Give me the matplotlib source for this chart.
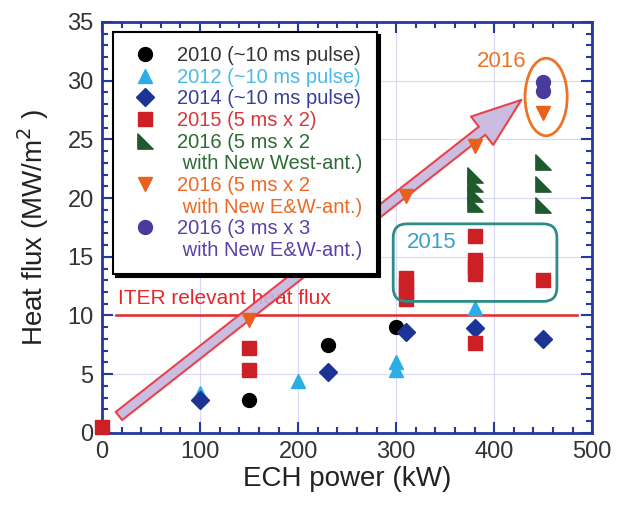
import numpy as np
import matplotlib.pyplot as plt
from matplotlib.path import Path
from matplotlib.lines import Line2D
from matplotlib.patches import Ellipse, FancyBboxPatch, FancyArrowPatch

plt.rcParams['font.family'] = ['Liberation Sans', 'DejaVu Sans']

# datos
x2010 = [150, 230, 300]
y2010 = [2.8, 7.5, 9.0]
x2012 = [100, 200, 300, 300, 380]
y2012 = [3.4, 4.4, 5.4, 6.0, 10.6]
x2014 = [100, 230, 310, 380, 450]
y2014 = [2.8, 5.2, 8.6, 8.9, 8.0]
x2015 = [0, 150, 150, 310, 310, 310, 310, 380, 380, 380, 380, 380, 450]
y2015 = [0.5, 5.4, 7.2, 11.4, 12.0, 12.6, 13.2, 7.7, 13.5, 14.1, 14.7, 16.8, 13.0]
x2016w = [380, 380, 380, 380, 450, 450, 450]
y2016w = [19.5, 20.3, 21.2, 22.0, 19.4, 21.2, 23.1]
x2016ew = [150, 310, 380, 450]
y2016ew = [9.6, 20.2, 24.4, 27.2]
x2016c = [450, 450]
y2016c = [29.1, 29.9]

iter_flux = 10
xticks = [0, 100, 200, 300, 400, 500]
yticks = [0, 5, 10, 15, 20, 25, 30, 35]

c_blk = 'black'
c_cyan = '#29aee6'
c_navy = '#1c3496'
c_red = '#cc1f26'
c_green = '#1f5a2c'
c_orange = '#e8601c'
c_purple = '#4a3a9c'
c_spine = '#2438a0'

# marcador triangulo rectangulo
tri_rect = Path([(-1, -1), (-1, 1), (1, -1), (-1, -1)],
                [Path.MOVETO, Path.LINETO, Path.LINETO, Path.CLOSEPOLY])

fig = plt.figure(figsize=(6.3, 5.07), dpi=100)
ax = fig.add_axes([0.162, 0.146, 0.778, 0.811])
ax.set_xlim(0, 500)
ax.set_ylim(0, 35)

ax.grid(True, color='#d8d8f4', lw=0.8, zorder=0)
ax.set_axisbelow(True)

# linea ITER
ax.plot([14, 485], [iter_flux, iter_flux], color='#e8262a', lw=1.8, zorder=2)
ax.text(16, iter_flux + 0.65, 'ITER relevant heat flux', color='#e8262a',
        fontsize=15, va='bottom', ha='left', zorder=2)

# flecha
arr = FancyArrowPatch((15, 1.3), (430, 28.5),
                      arrowstyle='simple,tail_width=0.75,head_width=2.6,head_length=3.6',
                      mutation_scale=10, fc='#c6b6de', ec='#e8333a', lw=1.5,
                      alpha=0.9, zorder=3)
ax.add_patch(arr)

ms = 10
ax.plot(x2010, y2010, 'o', color=c_blk, ms=ms, zorder=5, clip_on=False)
ax.plot(x2012, y2012, '^', color=c_cyan, ms=ms, zorder=4, clip_on=False)
ax.plot(x2014, y2014, 'D', color=c_navy, ms=ms - 1, zorder=5, clip_on=False)
ax.plot(x2015, y2015, 's', color=c_red, ms=ms, zorder=5, clip_on=False)
ax.plot(x2016w, y2016w, ls='none', marker=tri_rect, color=c_green, ms=ms + 1, zorder=5)
ax.plot(x2016ew, y2016ew, 'v', color=c_orange, ms=ms, zorder=5)
ax.plot(x2016c, y2016c, 'o', color=c_purple, ms=ms, zorder=5)

# anotaciones
ax.add_patch(Ellipse((453, 28.6), 43, 6.6, fill=False, ec='#ec7424', lw=2, zorder=6))
ax.text(408, 31.6, '2016', color='#ec7424', fontsize=16, ha='center', va='center')
ax.add_patch(FancyBboxPatch((297, 11.2), 167, 6.6,
                            boxstyle='round,pad=0,rounding_size=14',
                            mutation_aspect=0.084, fill=False, ec='#2e8c88',
                            lw=2, zorder=6))
ax.text(336, 16.2, '2015', color='#3aa0c8', fontsize=16, ha='center', va='center')

# ejes
ax.set_xticks(xticks)
ax.set_yticks(yticks)
ax.set_xticks(np.arange(0, 501, 20), minor=True)
ax.set_yticks(np.arange(0, 36, 1), minor=True)
ax.tick_params(which='both', direction='in', top=True, right=True,
               color=c_spine, width=1.5)
ax.tick_params(which='major', length=8, labelsize=17, labelcolor='#333333', pad=6)
ax.tick_params(which='minor', length=4)
for s in ax.spines.values():
    s.set_color(c_spine)
    s.set_linewidth(2)
ax.set_xlabel('ECH power (kW)', fontsize=20, color='#222222', labelpad=2)
ax.set_ylabel('Heat flux (MW/m$^2$ )', fontsize=20, color='#222222', labelpad=12)

# leyenda
blank = Line2D([], [], ls='none')
handles = [
    Line2D([], [], ls='none', marker='o', color=c_blk, ms=ms),
    Line2D([], [], ls='none', marker='^', color=c_cyan, ms=ms),
    Line2D([], [], ls='none', marker='D', color=c_navy, ms=ms - 1),
    Line2D([], [], ls='none', marker='s', color=c_red, ms=ms),
    Line2D([], [], ls='none', marker=tri_rect, color=c_green, ms=ms + 1),
    blank,
    Line2D([], [], ls='none', marker='v', color=c_orange, ms=ms),
    blank,
    Line2D([], [], ls='none', marker='o', color=c_purple, ms=ms),
    blank,
]
labels = ['2010 (~10 ms pulse)', '2012 (~10 ms pulse)', '2014 (~10 ms pulse)',
          '2015 (5 ms x 2)', '2016 (5 ms x 2', ' with New West-ant.)',
          '2016 (5 ms x 2', ' with New E&W-ant.)', '2016 (3 ms x 3',
          ' with New E&W-ant.)']
label_colors = ['#333333', '#4ab8e8', '#36409a', '#d8363a', '#2e6a34', '#2e6a34',
                '#ea6a26', '#ea6a26', '#5a40a8', '#5a40a8']
leg = ax.legend(handles, labels, loc='upper left', bbox_to_anchor=(0.022, 0.975),
                borderaxespad=0, fontsize=14.5, frameon=True, fancybox=False,
                labelspacing=0.13, handletextpad=0.7, handlelength=1.8,
                borderpad=0.7,
                shadow={'color': 'black', 'alpha': 1, 'ox': 2, 'oy': -2})
leg.get_frame().set_edgecolor('black')
leg.get_frame().set_linewidth(1.5)
for t, c in zip(leg.get_texts(), label_colors):
    t.set_color(c)
leg.set_zorder(10)

fig.savefig('out.png', dpi=100)
